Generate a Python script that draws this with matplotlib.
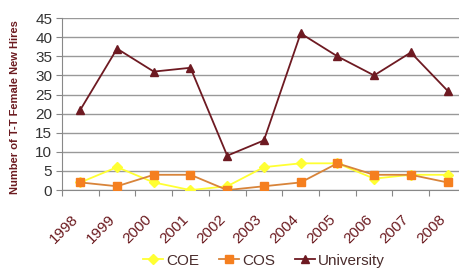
import matplotlib.pyplot as plt
import matplotlib.transforms as mtrans
from matplotlib.lines import Line2D

years = ['1998', '1999', '2000', '2001', '2002', '2003',
         '2004', '2005', '2006', '2007', '2008']
coe = [2, 6, 2, 0, 1, 6, 7, 7, 3, 4, 4]
cos = [2, 1, 4, 4, 0, 1, 2, 7, 4, 4, 2]
university = [21, 37, 31, 32, 9, 13, 41, 35, 30, 36, 26]

plt.rcParams['font.family'] = ['Liberation Sans', 'DejaVu Sans']
label_col = '#6b1a1f'

fig = plt.figure(figsize=(4.59, 2.70), dpi=100)
ax = fig.add_axes([0.135, 0.296, 0.880, 0.637])

x = range(len(years))
ax.plot(x, university, color='#6e1a22', marker='^', markersize=6, lw=1.3,
        zorder=3)
ax.plot(x, coe, color='#ffff33', marker='D', markersize=5, lw=1.3,
        zorder=4)
ax.plot(x, cos, color='#d8843a', marker='s', markersize=6, lw=1.3,
        markerfacecolor='#f57f1f', markeredgecolor='#f57f1f', zorder=5)

ax.set_xlim(-0.5, len(years) - 0.5)
ax.set_ylim(0, 45)
ax.set_yticks(range(0, 46, 5))
ax.set_xticks([i - 0.5 for i in range(len(years) + 1)])
ax.set_xticklabels([])
ax.tick_params(axis='x', length=4, color='#888888')
ax.tick_params(axis='y', length=4, color='#888888', labelsize=11,
               labelcolor='#333333', pad=3)

# rotated year labels, placed under each category
trans = mtrans.blended_transform_factory(ax.transData, ax.transAxes)
off = mtrans.ScaledTranslation(-4 / 100, -27 / 100, fig.dpi_scale_trans)
for i, yr in enumerate(years):
    ax.text(i, 0, yr, transform=trans + off, rotation=45, ha='right',
            va='center', rotation_mode='anchor', color=label_col,
            fontsize=11)

ax.grid(axis='y', color='#999999', lw=1)
ax.set_axisbelow(True)
for s in ['top', 'right']:
    ax.spines[s].set_visible(False)
ax.spines['left'].set_color('#888888')
ax.spines['bottom'].set_color('#888888')

ax.set_ylabel('Number of T-T Female New Hires', color=label_col,
              fontsize=8, fontweight='bold')
ax.yaxis.set_label_coords(-0.105, 0.48)

handles = [
    Line2D([], [], color='#ffff33', marker='D', markersize=5, lw=1.3),
    Line2D([], [], color='#d8843a', marker='s', markersize=6, lw=1.3,
           markerfacecolor='#f57f1f', markeredgecolor='#f57f1f'),
    Line2D([], [], color='#6e1a22', marker='^', markersize=6, lw=1.3),
]
leg = fig.legend(handles, ['COE', 'COS', 'University'], loc='center',
                 bbox_to_anchor=(0.575, 0.035), ncol=3, frameon=False,
                 fontsize=11, handlelength=1.3, columnspacing=1.3,
                 handletextpad=0.2)
for t in leg.get_texts():
    t.set_color('#4a2c2c')

fig.savefig('out.png', dpi=100)
